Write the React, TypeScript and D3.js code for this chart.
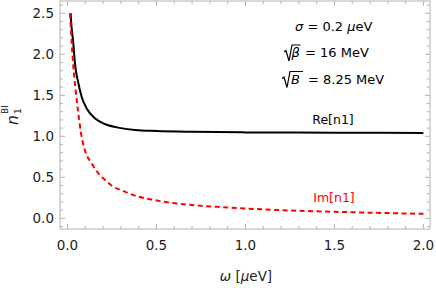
import React from "react";
import * as d3 from "d3";

// Re[n1]
const reOmega = [0.018, 0.02, 0.033, 0.042, 0.061, 0.08, 0.108, 0.154, 0.21, 0.3, 0.38, 0.5, 0.7, 1.0, 1.5, 2.0];
const reValues = [2.5, 2.42, 2.13, 1.89, 1.65, 1.48, 1.34, 1.22, 1.15, 1.1, 1.077, 1.065, 1.055, 1.048, 1.044, 1.042];

// Im[n1]
const imOmega = [0.014, 0.024, 0.033, 0.046, 0.061, 0.076, 0.098, 0.136, 0.173, 0.21, 0.257, 0.3, 0.4, 0.49, 0.55, 0.74, 0.84, 1.0, 1.14, 1.5, 2.0];
const imValues = [2.5, 2.13, 1.85, 1.56, 1.28, 1.04, 0.83, 0.67, 0.55, 0.47, 0.385, 0.345, 0.264, 0.223, 0.2, 0.155, 0.14, 0.12, 0.105, 0.08, 0.055];

const xTicks = [0, 0.5, 1.0, 1.5, 2.0];
const yTicks = [0, 0.5, 1.0, 1.5, 2.0, 2.5];

const W = 436,
  H = 288;
const frame = { left: 60, right: 430, top: 1, bottom: 229 };

const x = d3.scaleLinear().domain([-0.042, 2.037]).range([frame.left, frame.right]);
const y = d3.scaleLinear().domain([-0.13, 2.65]).range([frame.bottom, frame.top]);

const line = d3
  .line<[number, number]>()
  .x((d) => x(d[0]))
  .y((d) => y(d[1]))
  .curve(d3.curveMonotoneX);

const frameColor = "#b4b4b4";
const font = "'DejaVu Sans', sans-serif";

export default function App() {
  const rePts = reOmega.map((w, i) => [w, reValues[i]] as [number, number]);
  const imPts = imOmega.map((w, i) => [w, imValues[i]] as [number, number]);

  const xMinor = d3.range(0, 2.05, 0.1).filter((v) => !xTicks.some((t) => Math.abs(t - v) < 1e-6));
  const yMinor = d3.range(-0.1, 2.65, 0.1).filter((v) => !yTicks.some((t) => Math.abs(t - v) < 1e-6));

  return (
    <svg
      width={W}
      height={H}
      style={{ position: "absolute", left: 0, top: 0, display: "block", background: "#fff" }}
      fontFamily={font}
    >
      {/* frame */}
      <rect
        x={frame.left}
        y={frame.top}
        width={frame.right - frame.left}
        height={frame.bottom - frame.top}
        fill="none"
        stroke={frameColor}
        strokeWidth={1}
      />
      {/* ticks, pointing inward on all four sides */}
      <g stroke={frameColor} strokeWidth={1}>
        {xTicks.map((t) => (
          <g key={"xt" + t}>
            <line x1={x(t)} x2={x(t)} y1={frame.bottom} y2={frame.bottom - 5} />
            <line x1={x(t)} x2={x(t)} y1={frame.top} y2={frame.top + 5} />
          </g>
        ))}
        {xMinor.map((t) => (
          <g key={"xm" + t}>
            <line x1={x(t)} x2={x(t)} y1={frame.bottom} y2={frame.bottom - 3} />
            <line x1={x(t)} x2={x(t)} y1={frame.top} y2={frame.top + 3} />
          </g>
        ))}
        {yTicks.map((t) => (
          <g key={"yt" + t}>
            <line x1={frame.left} x2={frame.left + 5} y1={y(t)} y2={y(t)} />
            <line x1={frame.right} x2={frame.right - 5} y1={y(t)} y2={y(t)} />
          </g>
        ))}
        {yMinor.map((t) => (
          <g key={"ym" + t}>
            <line x1={frame.left} x2={frame.left + 3} y1={y(t)} y2={y(t)} />
            <line x1={frame.right} x2={frame.right - 3} y1={y(t)} y2={y(t)} />
          </g>
        ))}
      </g>
      {/* tick labels */}
      <g fontSize={13.5} fill="#222">
        {xTicks.map((t) => (
          <text key={"xl" + t} x={x(t)} y={250} textAnchor="middle">
            {t.toFixed(1)}
          </text>
        ))}
        {yTicks.map((t) => (
          <text key={"yl" + t} x={54} y={y(t)} dy="0.36em" textAnchor="end">
            {t.toFixed(1)}
          </text>
        ))}
      </g>

      {/* curves */}
      <path d={line(rePts) ?? ""} fill="none" stroke="#000" strokeWidth={2} />
      <path d={line(imPts) ?? ""} fill="none" stroke="#ff0000" strokeWidth={2} strokeDasharray="5,3.5" />

      {/* curve labels */}
      <text x={333} y={124} fontSize={12.5} textAnchor="middle" fill="#000">
        Re[n1]
      </text>
      <text x={334} y={201.5} fontSize={12.5} textAnchor="middle" fill="#ff0000">
        Im[n1]
      </text>

      {/* parameters */}
      <g fontSize={13} fill="#000">
        <text x={295} y={31}>
          <tspan fontStyle="italic">σ</tspan> = 0.2 <tspan fontStyle="italic">μ</tspan>eV
        </text>
        <path d="M284,52 L286,50.5 L289,61 L292,45 L300.5,45" fill="none" stroke="#000" strokeWidth={1.2} />
        <text x={291.5} y={57} fontStyle="italic">
          β
        </text>
        <text x={305} y={57}>
          = 16 MeV
        </text>
        <path d="M282,78.5 L284,77 L287,87.5 L290,71.5 L303,71.5" fill="none" stroke="#000" strokeWidth={1.2} />
        <text x={291} y={83.5} fontStyle="italic">
          B
        </text>
        <text x={308} y={83.5}>
          = 8.25 MeV
        </text>
      </g>

      {/* axis labels */}
      <text x={246} y={281} fontSize={13.5} textAnchor="middle" fill="#222">
        <tspan fontStyle="italic">ω</tspan> [<tspan fontStyle="italic">μ</tspan>eV]
      </text>
      <g transform="translate(18,125) rotate(-90)" fill="#222">
        <text x={0} y={0} fontSize={15.5} fontStyle="italic">
          n
        </text>
        <text x={11} y={2.5} fontSize={9}>
          1
        </text>
        <text x={11} y={-10.5} fontSize={9}>
          BI
        </text>
      </g>
    </svg>
  );
}
